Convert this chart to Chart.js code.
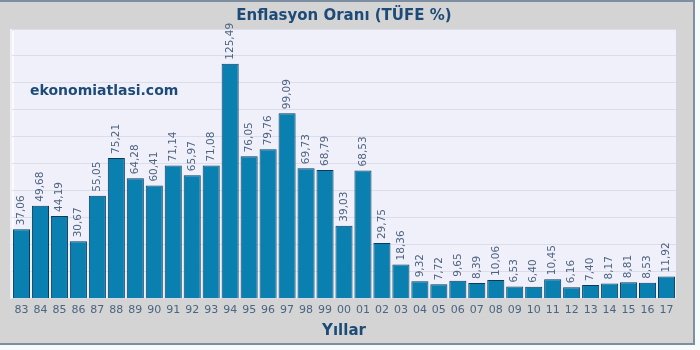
<!DOCTYPE html>
<html lang="tr">
<head>
<meta charset="utf-8">
<title>Enflasyon Oranı</title>
<script src="https://cdn.jsdelivr.net/npm/chart.js@4"></script>
<style>
    html, body { margin: 0; padding: 0; background: #ffffff; }
    #wrap { width: 700px; height: 350px; position: relative; }
</style>
</head>
<body>
<div id="wrap"><canvas id="tufeChart"></canvas></div>
<script>
// Yıllık TÜFE enflasyonu (%)
const years = ['83', '84', '85', '86', '87', '88', '89', '90', '91', '92', '93', '94',
    '95', '96', '97', '98', '99', '00', '01', '02', '03', '04', '05', '06', '07',
    '08', '09', '10', '11', '12', '13', '14', '15', '16', '17'];
const inflation = [37.06, 49.68, 44.19, 30.67, 55.05, 75.21, 64.28, 60.41, 71.14, 65.97,
    71.08, 125.49, 76.05, 79.76, 99.09, 69.73, 68.79, 39.03, 68.53, 29.75, 18.36, 9.32,
    7.72, 9.65, 8.39, 10.06, 6.53, 6.40, 10.45, 6.16, 7.40, 8.17, 8.81, 8.53, 11.92];

const FONT = '"DejaVu Sans", Verdana, sans-serif';
const navy = '#1d4b78';

// Gray frame, borders and the plot background
const framePlugin = {
    id: 'frame',
    beforeDraw(chart) {
        const ctx = chart.ctx;
        const area = chart.chartArea;
        ctx.save();
        ctx.fillStyle = '#f6fbfb';
        ctx.fillRect(0, 0, 700, 350);
        ctx.fillStyle = '#d4d4d4';
        ctx.fillRect(0, 0, 695, 345);
        ctx.fillStyle = '#7d8ea3';
        ctx.fillRect(0, 0, 695, 2);
        ctx.fillRect(693, 0, 2, 345);
        ctx.fillRect(0, 343, 695, 2);
        ctx.fillStyle = '#f0f0fa';
        ctx.fillRect(10, area.top, area.right - 10, area.bottom - area.top);
        ctx.fillStyle = '#fbfbff';
        ctx.fillRect(12, area.top + 2, 2, area.bottom - area.top - 2);
        ctx.restore();
    },
    beforeDatasetsDraw(chart) {
        const ctx = chart.ctx;
        ctx.save();
        ctx.font = 'bold 14px ' + FONT;
        ctx.fillStyle = navy;
        ctx.textBaseline = 'middle';
        ctx.fillText('ekonomiatlasi.com', 30, 91);
        ctx.restore();
    }
};

// Vertical value labels above each bar
const valueLabels = {
    id: 'valueLabels',
    afterDatasetsDraw(chart) {
        const ctx = chart.ctx;
        const meta = chart.getDatasetMeta(0);
        ctx.save();
        ctx.font = '10.5px ' + FONT;
        ctx.fillStyle = '#4d6380';
        ctx.textAlign = 'left';
        ctx.textBaseline = 'middle';
        meta.data.forEach((bar, i) => {
            ctx.save();
            ctx.translate(bar.x, bar.y - 4);
            ctx.rotate(-Math.PI / 2);
            ctx.fillText(inflation[i].toFixed(2).replace('.', ','), 0, 0);
            ctx.restore();
        });
        ctx.restore();
    }
};

new Chart(document.getElementById('tufeChart'), {
    type: 'bar',
    data: {
        labels: years,
        datasets: [{
            data: inflation,
            backgroundColor: '#0a80b0',
            borderColor: '#0c3a5c',
            borderWidth: 1,
            barPercentage: 0.9,
            categoryPercentage: 1.0
        }]
    },
    options: {
        responsive: true,
        maintainAspectRatio: false,
        animation: false,
        layout: { padding: { left: 12, right: 24, top: 0, bottom: 6 } },
        plugins: {
            legend: { display: false },
            tooltip: { enabled: false },
            title: {
                display: true,
                text: 'Enflasyon Oranı (TÜFE %)',
                color: navy,
                font: { family: FONT, size: 15, weight: 'bold' },
                padding: { top: 7, bottom: 4 }
            }
        },
        scales: {
            x: {
                grid: { display: false, drawTicks: false },
                border: { display: false },
                ticks: {
                    color: '#4a6582',
                    font: { family: FONT, size: 11 },
                    padding: 5,
                    maxRotation: 0,
                    autoSkip: false
                },
                title: {
                    display: true,
                    text: 'Yıllar',
                    color: navy,
                    font: { family: FONT, size: 15, weight: 'bold' },
                    padding: { top: 0, bottom: 4 }
                }
            },
            y: {
                min: 0,
                max: 144,
                grid: { color: '#dcdde8', drawTicks: false },
                border: { display: false },
                ticks: { display: false, stepSize: 14.4 }
            }
        }
    },
    plugins: [framePlugin, valueLabels]
});
</script>
</body>
</html>
